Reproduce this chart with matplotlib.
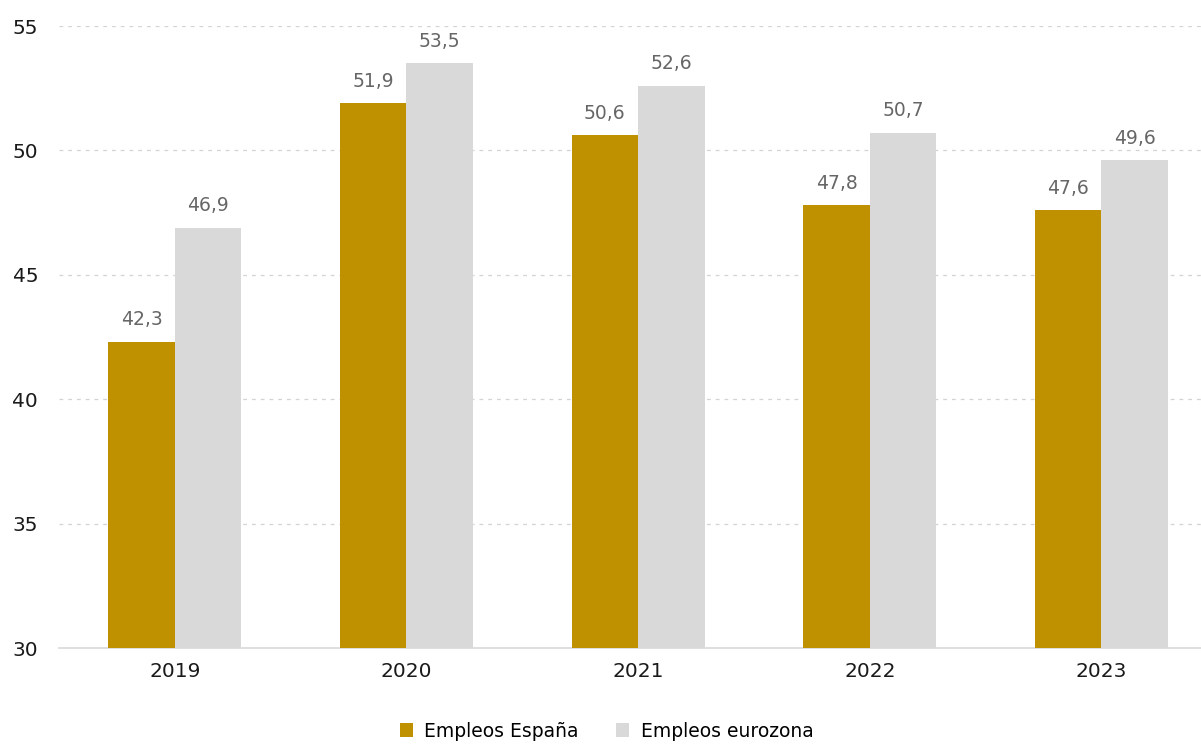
import matplotlib
matplotlib.use("Agg")
import matplotlib.pyplot as plt
import numpy as np

years = ["2019", "2020", "2021", "2022", "2023"]
empleos_espana = [42.3, 51.9, 50.6, 47.8, 47.6]
empleos_eurozona = [46.9, 53.5, 52.6, 50.7, 49.6]
series_names = ["Empleos España", "Empleos eurozona"]
colors = ["#BF9000", "#D9D9D9"]

plt.rcParams["font.family"] = ["DejaVu Sans"]

fig = plt.figure(figsize=(12.01, 7.47), dpi=100)
ax = fig.add_axes([59 / 1201, 1 - 648 / 747, 1 - 59 / 1201, (648 - 26) / 747])

x = np.arange(len(years))
w = 0.287
b1 = ax.bar(x - w / 2, empleos_espana, w, color=colors[0], label=series_names[0], zorder=3)
b2 = ax.bar(x + w / 2, empleos_eurozona, w, color=colors[1], label=series_names[1], zorder=3)

for bars, vals in ((b1, empleos_espana), (b2, empleos_eurozona)):
    for rect, v in zip(bars, vals):
        ax.annotate(f"{v:.1f}".replace(".", ","),
                    (rect.get_x() + rect.get_width() / 2, v),
                    xytext=(0, 9), textcoords="offset points",
                    ha="center", va="bottom", fontsize=13.5, color="#666666")

ax.set_ylim(30, 55)
ax.set_xlim(-0.5, 4.43)
ax.set_yticks([30, 35, 40, 45, 50, 55])
ax.set_xticks(x)
ax.set_xticklabels(years)
ax.yaxis.grid(True, linestyle=(0, (3, 4)), color="#D3D3D3", linewidth=0.9, zorder=0)
ax.set_axisbelow(True)
for s in ["top", "right", "left"]:
    ax.spines[s].set_visible(False)
ax.spines["bottom"].set_color("#D9D9D9")
ax.spines["bottom"].set_linewidth(1.2)
ax.tick_params(axis="both", length=0, labelsize=14.5, colors="#1a1a1a")
ax.tick_params(axis="y", pad=15)
ax.tick_params(axis="x", pad=10)

leg = fig.legend(handles=[b1, b2], labels=series_names, loc="lower center",
                 bbox_to_anchor=(0.505, -0.014), ncol=2, frameon=False,
                 fontsize=13.5, handlelength=0.7, handleheight=0.7,
                 columnspacing=2.0, handletextpad=0.6)

fig.savefig("out.png", dpi=100)
